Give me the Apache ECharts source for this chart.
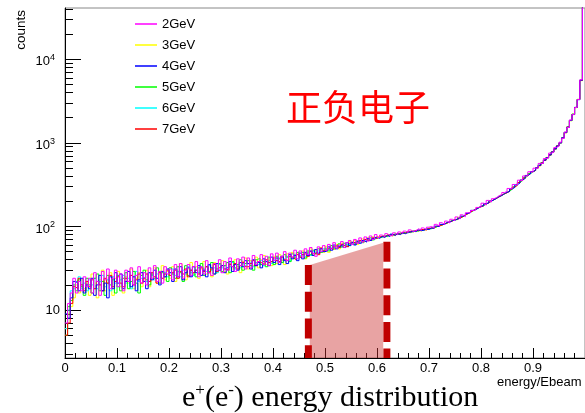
<!DOCTYPE html>
<html>
<head>
<meta charset="utf-8">
<script src="https://cdn.jsdelivr.net/npm/echarts@6/dist/echarts.min.js"></script>
<style>html,body{margin:0;padding:0;background:#fff;}#c{width:585px;height:413px;}</style>
</head>
<body>
<div id="c"></div>
<script>
// ---- data ----
const seriesNames = ['2GeV', '3GeV', '4GeV', '5GeV', '6GeV', '7GeV'];
const binWidth = 0.005; // histogram bin width in energy/Ebeam
const yMin = 2.67, yMax = 41100;
const xMin = 0, xMax = 1;
const yMajorTicks = [10, 100, 1000, 10000];
const yMinorTicks = [3,4,5,6,7,8,9,20,30,40,50,60,70,80,90,200,300,400,500,600,700,800,900,2000,3000,4000,5000,6000,7000,8000,9000,20000,30000,40000];

const h2GeV = [
7,12,16,24,16,22,17,25,19,24,
16,28,22,15,29,23,31,18,24,30,
19,27,17,30,22,32,20,26,33,21,
28,20,32,24,34,22,29,21,33,27,
31,23,35,25,36,24,30,35,26,33,
38,25,33,27,39,28,26,36,30,40,
28,38,30,42,33,29,41,34,43,31,
42,32,45,35,38,46,35,44,34,47,
39,48,37,44,50,39,48,43,52,41,
51,43,54,46,56,48,44,57,50,59,
52,61,54,64,55,60,66,56,64,68,
61,70,63,73,65,75,67,77,70,80,
74,79,76,82,78,77,84,80,86,83,
88,85,91,87,89,94,90,96,92,98,
100,96,106,101,111,106,116,110,122,117,
130,124,138,131,146,146,155,158,169,171,
190,180,205,196,215,222,234,241,255,262,
285,283,318,311,358,352,402,402,452,446,
498,498,568,568,650,660,755,770,880,910,
1020,1130,1350,1530,1880,2180,2650,3300,5700,60000];

const h3GeV = [
6,9,11,14,20,16,23,18,21,15,
27,18,14,23,30,17,21,28,15,24,
29,19,16,25,21,31,18,24,28,19,
23,30,19,26,32,21,27,34,23,29,
24,33,22,29,36,25,23,31,37,26,
33,24,31,38,27,34,25,37,28,35,
39,29,27,36,31,40,33,28,38,42,
31,39,34,43,32,40,45,35,41,34,
44,36,46,39,35,47,40,49,41,48,
43,51,41,49,54,45,52,47,56,49,
58,49,59,53,61,54,63,57,60,66,
62,68,61,65,71,66,73,68,75,71,
76,73,78,75,80,77,79,83,80,85,
83,86,84,89,86,90,88,92,91,95,
94,98,99,103,104,109,110,115,116,121,
121,129,131,138,142,148,156,160,168,172,
177,186,192,203,208,219,228,235,248,254,
264,281,294,315,333,358,378,407,426,452,
468,506,532,578,618,672,712,785,845,922,
995,1160,1320,1560,1840,2220,2640,3320,5550,60000];

const h4GeV = [
9,8,14,22,21,17,24,16,20,18,
24,15,20,26,17,21,14,25,18,28,
21,27,18,22,29,19,25,17,23,28,
22,18,28,23,30,24,20,29,25,31,
28,22,31,25,33,23,28,32,25,33,
28,34,26,30,25,35,32,27,36,30,
34,28,32,38,29,35,30,37,33,39,
36,31,40,34,37,32,41,38,34,43,
37,42,35,44,39,36,46,41,45,39,
48,41,49,45,51,45,53,48,54,50,
51,57,52,60,54,58,61,56,64,59,
64,60,67,63,68,65,72,68,72,75,
72,76,74,78,76,81,78,82,80,84,
82,85,86,88,87,91,89,90,93,92,
96,95,101,100,106,106,112,113,117,119,
123,125,133,135,143,147,156,159,166,175,
176,187,191,202,209,217,229,234,247,256,
262,282,293,316,331,359,376,408,425,453,
470,503,538,572,622,664,718,778,850,916,
1000,1150,1330,1540,1860,2190,2660,3290,5620,60000];

const h5GeV = [
5,11,13,20,17,23,19,15,24,20,
16,24,27,17,22,15,26,20,23,16,
26,17,24,28,18,22,29,21,16,26,
30,23,20,27,24,32,21,28,25,22,
32,27,24,33,28,22,34,26,30,27,
25,32,36,26,33,29,37,27,31,36,
29,34,37,28,38,32,35,40,30,36,
39,34,30,40,42,35,38,33,43,38,
35,44,41,37,46,43,38,47,43,49,
43,49,42,51,46,52,47,54,49,52,
55,51,59,54,57,62,57,63,58,61,
65,61,66,69,64,70,67,73,69,74,
73,75,77,76,79,78,82,80,83,82,
85,84,87,86,89,88,91,90,94,93,
95,97,99,103,104,108,110,114,118,120,
121,128,131,137,144,148,154,162,166,174,
179,184,194,200,210,217,228,236,244,256,
266,279,297,312,336,355,382,403,430,449,
472,502,542,576,624,666,720,776,848,918,
1005,1140,1340,1550,1850,2200,2650,3310,5600,60000];

const h6GeV = [
6,10,17,18,22,25,18,21,17,23,
20,24,18,22,26,19,23,17,25,21,
19,23,26,21,24,18,25,29,22,24,
25,22,28,26,23,27,29,24,28,25,
28,31,26,29,25,30,27,33,28,26,
30,28,33,31,29,34,30,32,28,35,
32,34,30,33,37,31,35,32,36,34,
36,38,33,37,35,39,34,38,40,36,
40,38,42,37,41,44,39,42,46,41,
45,47,44,48,45,50,48,51,49,54,
52,54,57,55,59,56,58,61,60,62,
62,64,66,65,68,67,69,71,70,72,
74,74,77,77,78,80,80,81,83,83,
84,86,85,88,88,90,91,91,93,94,
94,98,99,102,105,107,111,113,118,119,
123,126,132,136,142,149,154,161,167,172,
178,185,193,201,208,219,226,237,245,254,
265,280,295,314,334,356,380,404,429,450,
471,504,540,574,620,668,716,780,846,920,
998,1150,1330,1550,1850,2200,2650,3300,5600,60000];

const h7GeV = [
5,7,12,19,18,24,20,17,22,19,
23,18,22,20,17,24,21,26,19,22,
25,21,19,24,22,26,20,23,27,21,
24,27,22,28,25,21,28,24,27,30,
26,28,30,24,29,27,31,25,30,28,
30,27,32,29,33,28,31,35,29,32,
34,31,30,35,33,36,31,34,37,33,
33,36,39,34,38,36,35,40,37,39,
42,39,37,43,40,39,44,42,40,46,
43,46,48,44,50,47,49,46,55,51,
53,56,53,57,60,56,61,58,57,63,
65,63,64,68,66,70,68,69,73,72,
75,76,75,79,77,81,79,82,81,85,
83,87,86,87,90,89,92,92,91,95,
96,96,101,101,104,107,110,114,116,121,
122,126,131,138,142,149,155,160,168,172,
176,186,192,201,210,218,226,237,246,253,
264,280,296,312,335,357,378,406,427,452,
469,503,536,576,619,666,717,778,847,921,
1002,1145,1325,1545,1855,2190,2655,3305,5580,60000];

// selected window (shaded band) and its dashed borders
const bandX = [0.4707, 0.612];
const bandTop = [34.5, 64];
const cutLeft = 0.468, cutLeftTop = 34.5;
const cutRight = 0.619, cutRightTop = 65.6;

// ---- build ----
function toSteps(vals) {
  const pts = vals.map((v, i) => [+(i * binWidth).toFixed(4), v]);
  pts.push([xMax, vals[vals.length - 1]]);
  return pts;
}
const histData = {
  '2GeV': h2GeV, '3GeV': h3GeV, '4GeV': h4GeV,
  '5GeV': h5GeV, '6GeV': h6GeV, '7GeV': h7GeV
};
const colors = {
  '2GeV': '#ff00ff', '3GeV': '#ffff00', '4GeV': '#0000ff',
  '5GeV': '#00ff00', '6GeV': '#00ffff', '7GeV': '#ff0000'
};
const drawOrder = ['3GeV', '6GeV', '5GeV', '7GeV', '4GeV', '2GeV'];

const series = drawOrder.map(n => ({
  name: n, type: 'line', step: 'end', data: toSteps(histData[n]),
  showSymbol: false, symbol: 'none', clip: true,
  lineStyle: { width: 1, color: colors[n] }, itemStyle: { color: colors[n] },
  animation: false, silent: true
}));

series.push({
  type: 'line', data: [[bandX[0], bandTop[0]], [bandX[1], bandTop[1]]],
  symbol: 'none', lineStyle: { width: 0, opacity: 0 },
  areaStyle: { color: 'rgba(204,51,51,0.45)', opacity: 1, origin: 'start' },
  z: 5, animation: false, silent: true
});
[[cutLeft, cutLeftTop], [cutRight, cutRightTop]].forEach(c => {
  series.push({
    type: 'line', data: [[c[0], c[1]], [c[0], yMin]],
    symbol: 'none', z: 6, animation: false, silent: true,
    lineStyle: { width: 7, color: '#c00000', type: [20, 6.7], cap: 'butt' }
  });
});

const FONT = 'Liberation Sans';
const chart = echarts.init(document.getElementById('c'), null, { renderer: 'canvas' });
chart.setOption({
  backgroundColor: '#fff',
  animation: false,
  grid: { left: 65, top: 8, width: 522, height: 350, show: true, borderColor: '#888', borderWidth: 1 },
  title: {
    text: '{n|e}{s|+}{n|(e}{s|-}{n|) energy distribution}',
    left: 182, top: 382, padding: 0,
    textStyle: {
      fontWeight: 'normal',
      rich: {
        n: { fontFamily: 'Liberation Serif', fontWeight: 'normal', fontSize: 30, lineHeight: 33, color: '#000' },
        s: { fontFamily: 'Liberation Serif', fontWeight: 'normal', fontSize: 17, lineHeight: 17, verticalAlign: 'top', color: '#000' }
      }
    }
  },
  legend: {
    data: seriesNames, orient: 'vertical', left: 135, top: 17, padding: 0,
    icon: 'rect', itemWidth: 22, itemHeight: 1.5, itemGap: 7,
    textStyle: { fontFamily: FONT, fontSize: 13, lineHeight: 14, color: '#000' },
    selectedMode: false
  },
  xAxis: {
    type: 'value', min: xMin, max: xMax, interval: 0.1,
    axisLine: { lineStyle: { color: '#000', width: 1 } },
    axisTick: { inside: true, length: 10, lineStyle: { color: '#000' } },
    minorTick: { show: true, splitNumber: 5, length: 5, lineStyle: { color: '#000' } },
    axisLabel: { margin: 4, fontFamily: FONT, fontSize: 13, color: '#000', showMaxLabel: false },
    splitLine: { show: false }
  },
  yAxis: [{
    type: 'log', logBase: 10, min: yMin, max: yMax, position: 'left',
    axisLine: { show: true, lineStyle: { color: '#000', width: 1 } },
    axisTick: { inside: true, length: 16, customValues: yMajorTicks, lineStyle: { color: '#000' } },
    axisLabel: {
      customValues: yMajorTicks, margin: 5, fontFamily: FONT, fontSize: 13, color: '#000',
      formatter: v => {
        const e = Math.round(Math.log10(v));
        return e === 1 ? '{p|10}' : '{n|10}{s|' + e + '}';
      },
      rich: {
        p: { fontFamily: FONT, fontSize: 13, color: '#000' },
        n: { fontFamily: FONT, fontSize: 13, color: '#000', padding: [5, 0, 0, 0] },
        s: { fontFamily: FONT, fontSize: 9, lineHeight: 9, color: '#000', verticalAlign: 'top', padding: [3, 5, 0, 0] }
      }
    },
    splitLine: { show: false }
  }, {
    type: 'log', logBase: 10, min: yMin, max: yMax, position: 'left', offset: 0,
    axisLine: { show: false },
    axisTick: { inside: true, length: 8, customValues: yMinorTicks, lineStyle: { color: '#000' } },
    axisLabel: { show: false },
    splitLine: { show: false }
  }],
  graphic: [
    { type: 'text', x: 21.5, y: 10, rotation: Math.PI / 2,
      style: { text: 'counts', fontFamily: FONT, fontSize: 13.5, fill: '#000', align: 'right', verticalAlign: 'middle' } },
    { type: 'text', x: 497, y: 382, style: { text: 'energy/Ebeam', fontFamily: FONT, fontSize: 13, fill: '#000', align: 'left', verticalAlign: 'middle' } },
    { type: 'text', x: 286, y: 107.5, style: { text: '正负电子', fontFamily: 'Noto Sans CJK SC', fontSize: 36, fill: '#ff0000', align: 'left', verticalAlign: 'middle' } }
  ],
  series: series
});
</script>
</body>
</html>
